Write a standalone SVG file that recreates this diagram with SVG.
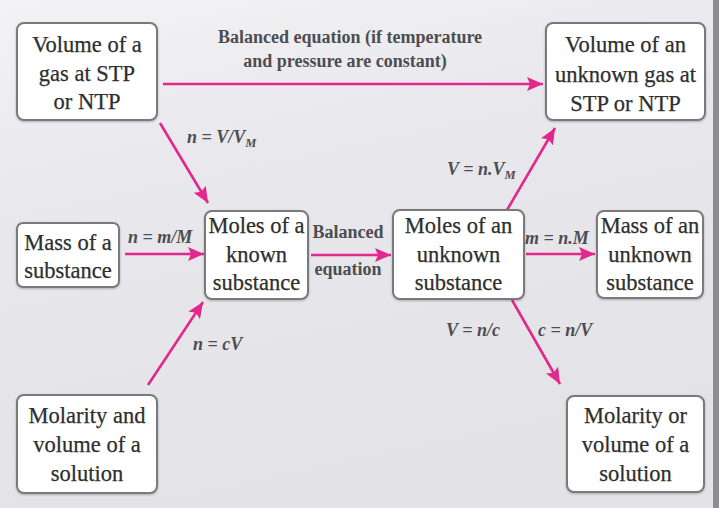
<svg xmlns="http://www.w3.org/2000/svg" width="719" height="508" viewBox="0 0 719 508">
<defs>
<linearGradient id="bg" x1="0" y1="0" x2="0.3" y2="1">
<stop offset="0" stop-color="#f3f3f5"/>
<stop offset="0.35" stop-color="#e9e8ec"/>
<stop offset="1" stop-color="#e3e2e7"/>
</linearGradient>
<marker id="ah" markerUnits="userSpaceOnUse" markerWidth="18" markerHeight="14" refX="16" refY="7" orient="auto">
<path d="M0,0 L16,7 L0,14 L3,7 z" fill="#e2288d"/>
</marker>
<filter id="sh" x="-10%" y="-10%" width="120%" height="120%">
<feDropShadow dx="0" dy="1" stdDeviation="1" flood-color="#000" flood-opacity="0.25"/>
</filter>
</defs>
<style>
.box{fill:#fff;stroke:#7a7a7c;stroke-width:2;filter:url(#sh)}
.nt{font-family:"Liberation Serif",serif;font-size:22.5px;fill:#2e2e2e;stroke:#2e2e2e;stroke-width:0.25;text-anchor:middle}
.lb{font-family:"Liberation Serif",serif;font-size:18px;font-weight:bold;fill:#4d4d50}
.eq{font-family:"Liberation Serif",serif;font-size:18px;font-weight:bold;font-style:italic;fill:#4d4d50}
.sub{font-size:12.5px}
.cn{stroke:#e2288d;stroke-width:2.6;fill:none;marker-end:url(#ah)}
</style>
<rect width="719" height="508" fill="url(#bg)"/>
<rect x="713" y="0" width="6" height="508" fill="#8d8d91"/>

<g id="connectors">
<line class="cn" x1="163" y1="84" x2="543" y2="84"/>
<line class="cn" x1="160" y1="123" x2="208" y2="203"/>
<line class="cn" x1="125" y1="254" x2="204" y2="254"/>
<line class="cn" x1="311" y1="255" x2="391" y2="255"/>
<line class="cn" x1="526" y1="254" x2="595" y2="254"/>
<line class="cn" x1="507" y1="210" x2="555" y2="128"/>
<line class="cn" x1="148" y1="385" x2="203" y2="302"/>
<line class="cn" x1="512" y1="300" x2="560" y2="384"/>
</g>

<g id="labels">
<text class="lb" x="350" y="43" text-anchor="middle">Balanced equation (if temperature</text>
<text class="lb" x="345" y="67" text-anchor="middle">and pressure are constant)</text>
<text class="eq" x="187" y="143">n = V/V<tspan class="sub" dy="4">M</tspan></text>
<text class="eq" x="128" y="243">n = m/M</text>
<text class="lb" x="348" y="238" text-anchor="middle">Balanced</text>
<text class="lb" x="348" y="275" text-anchor="middle">equation</text>
<text class="eq" x="525" y="244">m = n.M</text>
<text class="eq" x="447" y="175">V = n.V<tspan class="sub" dy="4">M</tspan></text>
<text class="eq" x="193" y="350">n = cV</text>
<text class="eq" x="446" y="336">V = n/c</text>
<text class="eq" x="538" y="336">c = n/V</text>
</g>

<g id="gas-known">
<rect class="box" x="17" y="23" width="140" height="97" rx="7"/>
<text class="nt" x="87" y="52">Volume of a</text>
<text class="nt" x="87" y="81">gas at STP</text>
<text class="nt" x="87" y="109">or NTP</text>
</g>
<g id="gas-unknown">
<rect class="box" x="546" y="23" width="159" height="97" rx="7"/>
<text class="nt" x="625.5" y="52">Volume of an</text>
<text class="nt" x="625.5" y="82">unknown gas at</text>
<text class="nt" x="625.5" y="111">STP or NTP</text>
</g>
<g id="mass-known">
<rect class="box" x="17" y="223" width="102" height="64" rx="6"/>
<text class="nt" x="68" y="250">Mass of a</text>
<text class="nt" x="68" y="278">substance</text>
</g>
<g id="moles-known">
<rect class="box" x="205" y="211" width="103" height="88" rx="7"/>
<text class="nt" x="256.5" y="233">Moles of a</text>
<text class="nt" x="256.5" y="262">known</text>
<text class="nt" x="256.5" y="290">substance</text>
</g>
<g id="moles-unknown">
<rect class="box" x="393" y="210" width="131" height="89" rx="7"/>
<text class="nt" x="458.5" y="233">Moles of an</text>
<text class="nt" x="458.5" y="262">unknown</text>
<text class="nt" x="458.5" y="290">substance</text>
</g>
<g id="mass-unknown">
<rect class="box" x="597" y="211" width="106" height="87" rx="7"/>
<text class="nt" x="650" y="233">Mass of an</text>
<text class="nt" x="650" y="262">unknown</text>
<text class="nt" x="650" y="290">substance</text>
</g>
<g id="solution-known">
<rect class="box" x="17" y="395" width="140" height="98" rx="7"/>
<text class="nt" x="87" y="423">Molarity and</text>
<text class="nt" x="87" y="452">volume of a</text>
<text class="nt" x="87" y="481">solution</text>
</g>
<g id="solution-unknown">
<rect class="box" x="567" y="396" width="137" height="96" rx="7"/>
<text class="nt" x="635.5" y="423">Molarity or</text>
<text class="nt" x="635.5" y="452">volume of a</text>
<text class="nt" x="635.5" y="481">solution</text>
</g>
</svg>
